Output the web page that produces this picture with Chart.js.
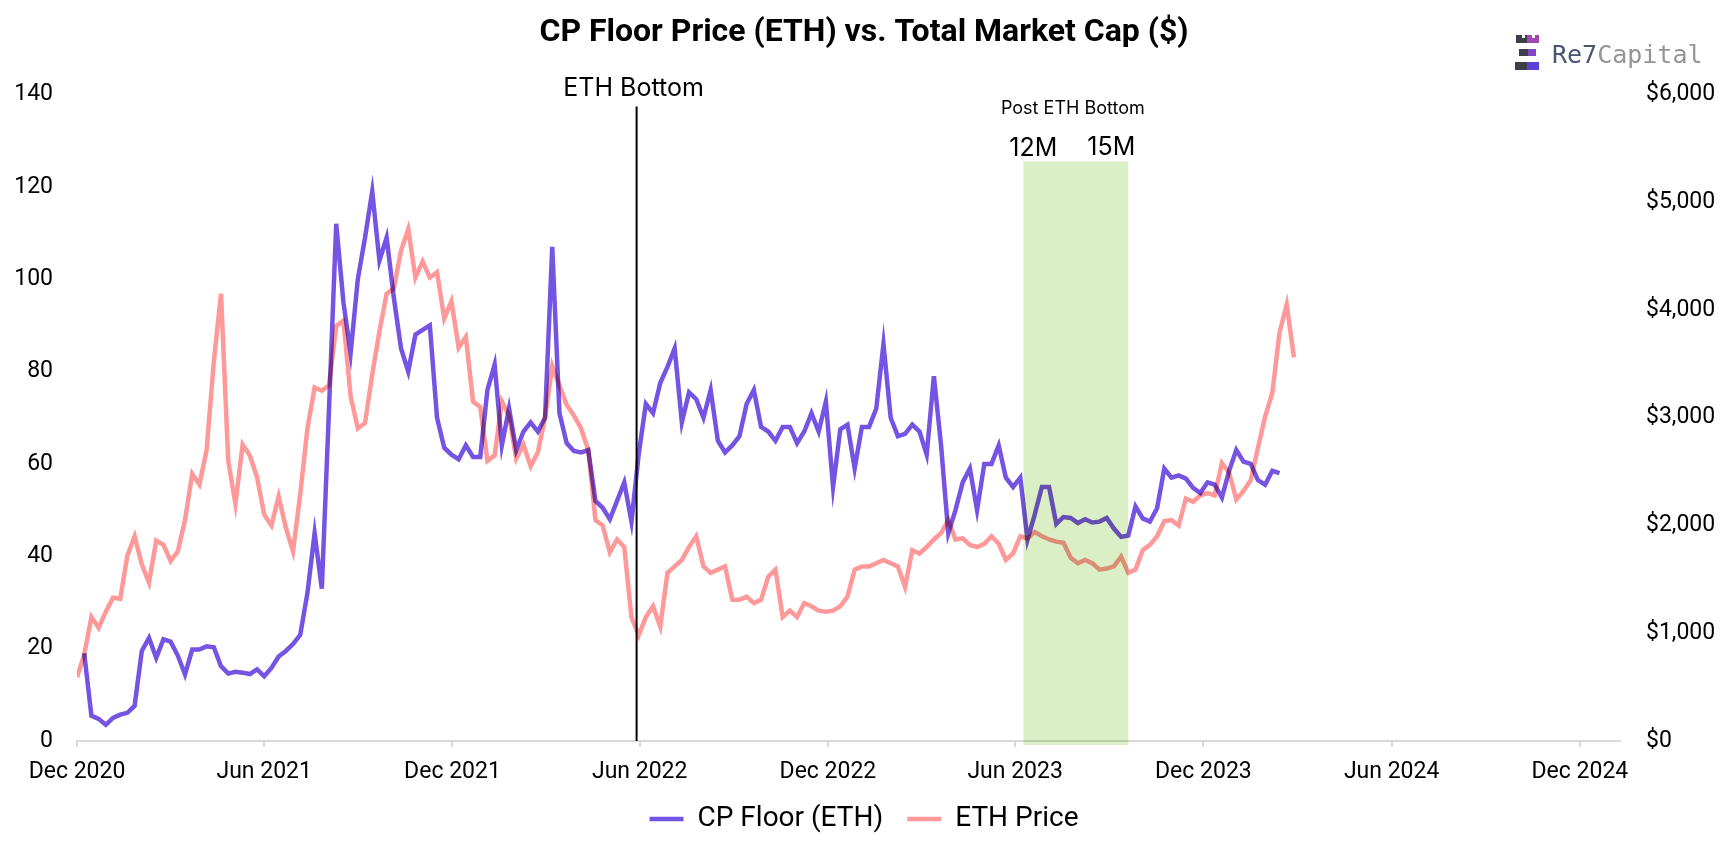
<!DOCTYPE html>
<html>
<head>
<meta charset="utf-8">
<title>CP Floor Price vs ETH</title>
<script src="https://cdn.jsdelivr.net/npm/chart.js@4.4.1/dist/chart.umd.min.js"></script>
<style>
  html, body { margin: 0; padding: 0; background: #fff; }
  #wrap { width: 1728px; height: 856px; position: relative; }
</style>
</head>
<body>
<div id="wrap"><canvas id="myChart"></canvas></div>
<script>
// weekly samples
const weeks = [
  '2020-12-01','2020-12-08','2020-12-15','2020-12-22','2020-12-29','2021-01-05','2021-01-12','2021-01-19','2021-01-26','2021-02-02',
  '2021-02-09','2021-02-16','2021-02-23','2021-03-02','2021-03-09','2021-03-16','2021-03-23','2021-03-30','2021-04-06','2021-04-13',
  '2021-04-20','2021-04-27','2021-05-04','2021-05-11','2021-05-18','2021-05-25','2021-06-01','2021-06-08','2021-06-15','2021-06-22',
  '2021-06-29','2021-07-06','2021-07-13','2021-07-20','2021-07-27','2021-08-03','2021-08-10','2021-08-17','2021-08-24','2021-08-31',
  '2021-09-07','2021-09-14','2021-09-21','2021-09-28','2021-10-05','2021-10-12','2021-10-19','2021-10-26','2021-11-02','2021-11-09',
  '2021-11-16','2021-11-23','2021-11-30','2021-12-07','2021-12-14','2021-12-21','2021-12-28','2022-01-04','2022-01-11','2022-01-18',
  '2022-01-25','2022-02-01','2022-02-08','2022-02-15','2022-02-22','2022-03-01','2022-03-08','2022-03-15','2022-03-22','2022-03-29',
  '2022-04-05','2022-04-12','2022-04-19','2022-04-26','2022-05-03','2022-05-10','2022-05-17','2022-05-24','2022-05-31','2022-06-07',
  '2022-06-14','2022-06-21','2022-06-28','2022-07-05','2022-07-12','2022-07-19','2022-07-26','2022-08-02','2022-08-09','2022-08-16',
  '2022-08-23','2022-08-30','2022-09-06','2022-09-13','2022-09-20','2022-09-27','2022-10-04','2022-10-11','2022-10-18','2022-10-25',
  '2022-11-01','2022-11-08','2022-11-15','2022-11-22','2022-11-29','2022-12-06','2022-12-13','2022-12-20','2022-12-27','2023-01-03',
  '2023-01-10','2023-01-17','2023-01-24','2023-01-31','2023-02-07','2023-02-14','2023-02-21','2023-02-28','2023-03-07','2023-03-14',
  '2023-03-21','2023-03-28','2023-04-04','2023-04-11','2023-04-18','2023-04-25','2023-05-02','2023-05-09','2023-05-16','2023-05-23',
  '2023-05-30','2023-06-06','2023-06-13','2023-06-20','2023-06-27','2023-07-04','2023-07-11','2023-07-18','2023-07-25','2023-08-01',
  '2023-08-08','2023-08-15','2023-08-22','2023-08-29','2023-09-05','2023-09-12','2023-09-19','2023-09-26','2023-10-03','2023-10-10',
  '2023-10-17','2023-10-24','2023-10-31','2023-11-07','2023-11-14','2023-11-21','2023-11-28','2023-12-05','2023-12-12','2023-12-19',
  '2023-12-26','2024-01-02','2024-01-09','2024-01-16','2024-01-23','2024-01-30','2024-02-06','2024-02-13','2024-02-20','2024-02-27'
];

// CP floor price in ETH (left axis)
const cpFloor = [
  null, 19, 5.5, 4.8, 3.5, 5, 5.7, 6.1, 7.6, 19.5,
  22.3, 18, 22, 21.5, 18.5, 14.4, 19.8, 19.8, 20.5, 20.3,
  16.2, 14.6, 15, 14.8, 14.5, 15.5, 14, 15.8, 18.3, 19.5,
  21, 23, 32, 45, 33, 72, 112, 95, 84, 100,
  109, 119, 104, 109, 96, 85, 80, 88, 89, 90,
  70, 63.5, 62, 61, 64, 61.5, 61.5, 76, 81.5, 64,
  72, 63, 67, 69, 67, 70, 107, 71, 64.5, 62.8,
  62.5, 63, 52, 50.5, 48, 52, 56, 47.5, 62, 73,
  71, 77.5, 81, 85, 69, 75.5, 74, 70, 76, 65,
  62.5, 64, 66, 73, 76, 68, 67, 65, 68, 68,
  64.5, 67, 71, 67, 73.5, 55, 67.5, 68.5, 59, 68,
  68, 72, 86, 70, 66, 66.5, 68.5, 67, 62, 79,
  64, 45, 50, 56, 59, 50, 60, 60, 64, 57,
  55, 57, 43.6, 49, 55, 55, 47, 48.5, 48.3, 47.2,
  48, 47.3, 47.5, 48.3, 46, 44.2, 44.5, 50.8, 48.2, 47.5,
  50.4, 59, 57, 57.5, 56.8, 54.8, 53.7, 56, 55.5, 52.7,
  58.5, 63, 60.5, 60, 56.5, 55.5, 58.5, 58, null, null
];

// ETH price in USD (right axis)
const ethPrice = [
  590, 800, 1150, 1050, 1200, 1330, 1320, 1720, 1900, 1640,
  1470, 1860, 1820, 1670, 1760, 2050, 2480, 2380, 2700, 3520,
  4150, 2600, 2200, 2750, 2650, 2450, 2100, 2000, 2270, 1980,
  1760, 2290, 2900, 3280, 3250, 3300, 3850, 3900, 3200, 2900,
  2950, 3400, 3800, 4150, 4200, 4550, 4750, 4300, 4450, 4300,
  4350, 3920, 4080, 3650, 3750, 3150, 3100, 2600, 2650, 3150,
  3020, 2620, 2750, 2550, 2680, 3000, 3480, 3300, 3120, 3020,
  2900, 2700, 2050, 2000, 1750, 1870, 1800, 1150, 980, 1150,
  1250, 1060, 1560, 1620, 1680, 1800, 1900, 1620, 1560, 1590,
  1620, 1310, 1310, 1340, 1280, 1310, 1525, 1590, 1150, 1210,
  1150, 1280, 1250, 1210, 1200, 1210, 1250, 1340, 1590, 1620,
  1620, 1650, 1680, 1650, 1620, 1430, 1770, 1740, 1800, 1870,
  1930, 2050, 1870, 1880, 1820, 1800, 1830, 1900, 1830, 1680,
  1740, 1900, 1880, 1940, 1900, 1870, 1850, 1840, 1700, 1650,
  1680, 1650, 1590, 1600, 1620, 1710, 1560, 1590, 1770, 1820,
  1900, 2040, 2050, 2000, 2250, 2220, 2280, 2300, 2280, 2580,
  2490, 2240, 2320, 2420, 2720, 3010, 3230, 3790, 4050, 3560
];

const tickDates = ['2020-12-01','2021-06-01','2021-12-01','2022-06-01','2022-12-01','2023-06-01','2023-12-01','2024-06-01','2024-12-01'];
const tickLabels = ['Dec 2020','Jun 2021','Dec 2021','Jun 2022','Dec 2022','Jun 2023','Dec 2023','Jun 2024','Dec 2024'];
const axisStart = '2020-12-01';
const axisEnd = '2025-01-09';

// annotations
const ethBottomDate = '2022-05-29';
const ethBottomTop = 137.4;      // top of the marker line, left-axis units
const postStart = '2023-06-09';  // 12M after bottom
const postEnd = '2023-09-19';    // 15M after bottom
const postTop = 125.5;

const purple = 'rgb(117, 84, 228)';
const pink = 'rgb(255, 152, 152)';
const shade = 'rgb(219, 239, 199)';

Chart.defaults.font.family = 'Roboto';
Chart.defaults.color = '#000';

const overlay = {
  id: 'overlay',
  beforeDatasetDraw(chart) {
    chart.ctx.save();
    chart.ctx.globalCompositeOperation = 'multiply';
  },
  afterDatasetDraw(chart) {
    chart.ctx.restore();
  },
  afterDatasetsDraw(chart) {
    const { ctx, scales: { x, y } } = chart;
    const x0 = x.getPixelForValue(Date.parse(postStart));
    const x1 = x.getPixelForValue(Date.parse(postEnd));
    const top = y.getPixelForValue(postTop);
    const bottom = y.getPixelForValue(0) + 4;

    // shaded 12M-15M window
    ctx.save();
    ctx.globalCompositeOperation = 'multiply';
    ctx.fillStyle = shade;
    ctx.fillRect(x0, top, x1 - x0, bottom - top);
    ctx.restore();

    // ETH bottom marker
    const xl = x.getPixelForValue(Date.parse(ethBottomDate));
    ctx.save();
    ctx.strokeStyle = '#000';
    ctx.lineWidth = 2;
    ctx.beginPath();
    ctx.moveTo(xl, y.getPixelForValue(ethBottomTop));
    ctx.lineTo(xl, y.getPixelForValue(0));
    ctx.stroke();

    ctx.fillStyle = '#000';
    ctx.textAlign = 'center';
    ctx.textBaseline = 'alphabetic';
    const areaTop = chart.chartArea.top;
    ctx.font = '25px Inter';
    ctx.fillText('ETH Bottom', xl - 3, areaTop + 2);
    ctx.font = '18px Inter';
    ctx.fillText('Post ETH Bottom', (x0 + x1) / 2 - 3, areaTop + 20);
    ctx.font = '25px Inter';
    ctx.fillText('12M', x0 + 10, areaTop + 62);
    ctx.fillText('15M', x1 - 17, areaTop + 61);
    ctx.restore();
  },
  afterDraw(chart) {
    const ctx = chart.ctx;
    ctx.save();
    // logo mark
    const dark = '#3b3f49';
    const blocks = [
      [1516, 35, 11, 8, dark], [1527, 35, 12, 8, '#a146b3'],
      [1519, 49, 9, 7, dark], [1528, 49, 8, 7, '#8445c4'],
      [1515, 62, 12, 8, dark], [1527, 62, 12, 8, '#5b40dc']
    ];
    blocks.forEach(([bx, by, bw, bh, c]) => { ctx.fillStyle = c; ctx.fillRect(bx, by, bw, bh); });
    ctx.fillStyle = '#fff';
    ctx.fillRect(1522, 35, 3, 3);
    ctx.fillRect(1532, 35, 3, 3);
    // logo text
    ctx.font = '25px "DejaVu Sans Mono"';
    ctx.textBaseline = 'alphabetic';
    ctx.textAlign = 'left';
    ctx.fillStyle = '#4a5570';
    ctx.fillText('Re7', 1552, 63);
    const w = ctx.measureText('Re7').width;
    ctx.fillStyle = '#959595';
    ctx.fillText('Capital', 1552 + w, 63);
    ctx.restore();
  }
};

const ctx = document.getElementById('myChart').getContext('2d');
const myChart = new Chart(ctx, {
  type: 'line',
  data: {
    datasets: [
      {
        label: 'CP Floor (ETH)',
        data: weeks.map((d, i) => ({ x: Date.parse(d), y: cpFloor[i] })),
        yAxisID: 'y',
        borderColor: purple,
        backgroundColor: purple,
        borderWidth: 4.5,
        pointRadius: 0,
        tension: 0
      },
      {
        label: 'ETH Price',
        data: weeks.map((d, i) => ({ x: Date.parse(d), y: ethPrice[i] })),
        yAxisID: 'y2',
        borderColor: pink,
        backgroundColor: pink,
        borderWidth: 4.5,
        pointRadius: 0,
        tension: 0
      }
    ]
  },
  options: {
    responsive: true,
    maintainAspectRatio: false,
    animation: false,
    layout: { padding: { top: 0, left: 0, right: 0, bottom: 13 } },
    plugins: {
      title: {
        display: true,
        text: 'CP Floor Price (ETH) vs. Total Market Cap ($)',
        font: { size: 32, weight: 'bold', family: 'Roboto' },
        color: '#000',
        padding: { top: 14, bottom: 42 }
      },
      legend: {
        position: 'bottom',
        labels: {
          usePointStyle: true,
          pointStyle: 'line',
          pointStyleWidth: 34,
          padding: 24,
          font: { size: 28, family: 'Roboto' },
          color: '#000'
        }
      },
      tooltip: { enabled: false }
    },
    scales: {
      x: {
        type: 'linear',
        min: Date.parse(axisStart),
        max: Date.parse(axisEnd),
        afterBuildTicks: (scale) => {
          scale.ticks = tickDates.map((d) => ({ value: Date.parse(d) }));
        },
        afterFit: (scale) => { scale.height = 40; },
        grid: { display: true, drawOnChartArea: false, drawTicks: true, tickLength: 6, color: '#d9d9d9', lineWidth: 2 },
        border: { display: true, color: '#d9d9d9', width: 2 },
        ticks: {
          autoSkip: false,
          maxRotation: 0,
          padding: 11,
          font: { size: 23 },
          color: '#000',
          callback: (value, index) => tickLabels[index]
        }
      },
      y: {
        position: 'left',
        min: 0,
        max: 140,
        afterFit: (scale) => { scale.width = 77; },
        grid: { display: false },
        border: { display: false },
        ticks: { stepSize: 20, padding: 16, font: { size: 23 }, color: '#000' }
      },
      y2: {
        position: 'right',
        min: 0,
        max: 6000,
        afterFit: (scale) => { scale.width = 108; },
        grid: { display: false },
        border: { display: false },
        ticks: {
          stepSize: 1000,
          padding: 18,
          font: { size: 23 },
          color: '#000',
          callback: (value) => '$' + value.toLocaleString('en-US')
        }
      }
    }
  },
  plugins: [overlay]
});
</script>
</body>
</html>
